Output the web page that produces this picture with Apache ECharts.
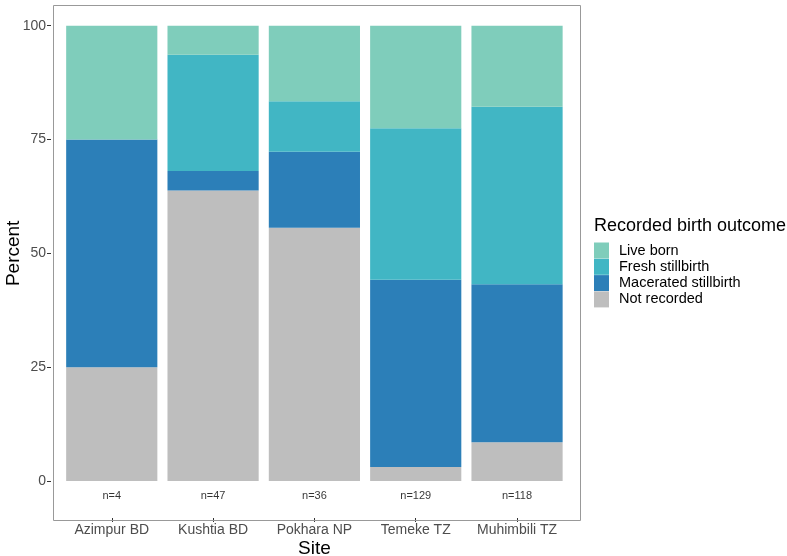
<!DOCTYPE html>
<html>
<head>
<meta charset="utf-8">
<script src="https://cdn.jsdelivr.net/npm/echarts@6/dist/echarts.min.js"></script>
<style>html,body{margin:0;padding:0;background:#fff}#c{width:787px;height:556px}</style>
</head>
<body>
<div id="c"></div>
<script>
var sites = ['Azimpur BD', 'Kushtia BD', 'Pokhara NP', 'Temeke TZ', 'Muhimbili TZ'];
var nLabels = ['n=4', 'n=47', 'n=36', 'n=129', 'n=118'];
var nLabelY = -3.3;
var notRecorded = [25.0, 63.8, 55.6, 3.1, 8.5];
var macerated = [50.0, 4.3, 16.7, 41.1, 34.7];
var fresh = [0.0, 25.5, 11.1, 33.3, 39.0];
var liveBorn = [25.0, 6.4, 16.7, 22.5, 17.8];
var yTicks = [0, 25, 50, 75, 100];

var colors = {
  'Live born': '#7fcdbb',
  'Fresh stillbirth': '#41b6c4',
  'Macerated stillbirth': '#2c7fb8',
  'Not recorded': '#bebebe'
};
var font = 'Liberation Sans, Arial, sans-serif';

function bar(name, data) {
  return {
    name: name, type: 'bar', stack: 'total', data: data,
    barWidth: '90%', xAxisIndex: 0, yAxisIndex: 0,
    itemStyle: { color: colors[name] },
    emphasis: { disabled: true }
  };
}

var chart = echarts.init(document.getElementById('c'));
chart.setOption({
  animation: false,
  backgroundColor: '#fff',
  grid: [
    { left: 61.1, top: 25.7, width: 506.6, height: 455.3, containLabel: false, outerBoundsMode: 'none' },
    { left: 61.1, top: 3, width: 506.6, height: 515, containLabel: false, outerBoundsMode: 'none' }
  ],
  title: {
    text: 'Recorded birth outcome', left: 594, top: 217, padding: 0,
    textStyle: { fontFamily: font, fontSize: 18, fontWeight: 'normal', color: '#000' }
  },
  legend: {
    data: ['Live born', 'Fresh stillbirth', 'Macerated stillbirth', 'Not recorded'],
    orient: 'vertical', left: 594, top: 242.5, icon: 'rect', padding: 0,
    itemWidth: 15, itemHeight: 16, itemGap: 0.3,
    selectedMode: false,
    textStyle: { fontFamily: font, fontSize: 14.5, color: '#000', padding: [0, 0, 0, 5] }
  },
  xAxis: [{
    type: 'category', data: sites, gridIndex: 0, show: false
  }, {
    type: 'category', data: sites, gridIndex: 1, position: 'bottom',
    name: 'Site', nameLocation: 'middle', nameGap: 21, nameMoveOverlap: false,
    nameTextStyle: { fontFamily: font, fontSize: 19, color: '#000' },
    axisLine: { show: false },
    axisTick: { show: true, alignWithLabel: true, length: 4, lineStyle: { color: '#333' } },
    axisLabel: { fontFamily: font, fontSize: 14, color: '#4d4d4d', margin: 5, interval: 0 },
    splitLine: { show: false }
  }],
  yAxis: [{
    type: 'value', min: 0, max: 100, interval: 25, offset: 10.1, gridIndex: 0,
    name: 'Percent', nameLocation: 'middle', nameGap: 28, nameMoveOverlap: false,
    nameTextStyle: { fontFamily: font, fontSize: 19, color: '#000' },
    axisLine: { show: false },
    axisTick: { show: true, length: 4, lineStyle: { color: '#333' } },
    axisLabel: { fontFamily: font, fontSize: 14, color: '#4d4d4d', margin: 5,
      customValues: yTicks },
    splitLine: { show: false }
  }, {
    type: 'value', min: 0, max: 1, gridIndex: 1, show: false
  }],
  graphic: [{
    type: 'rect', left: 51, top: 3, z: 100, silent: true,
    shape: { width: 527, height: 515 },
    style: { fill: 'none', stroke: '#999', lineWidth: 1 }
  }],
  series: [
    bar('Not recorded', notRecorded),
    bar('Macerated stillbirth', macerated),
    bar('Fresh stillbirth', fresh),
    bar('Live born', liveBorn),
    {
      type: 'scatter', name: 'nlab', clip: false, symbolSize: 0, silent: true,
      xAxisIndex: 0, yAxisIndex: 0,
      data: nLabels.map(function (t, i) { return [i, nLabelY]; }),
      label: { show: true, position: 'inside', fontFamily: font, fontSize: 11, color: '#000',
        formatter: function (p) { return nLabels[p.dataIndex]; } },
      emphasis: { disabled: true }
    }
  ]
});
</script>
</body>
</html>
